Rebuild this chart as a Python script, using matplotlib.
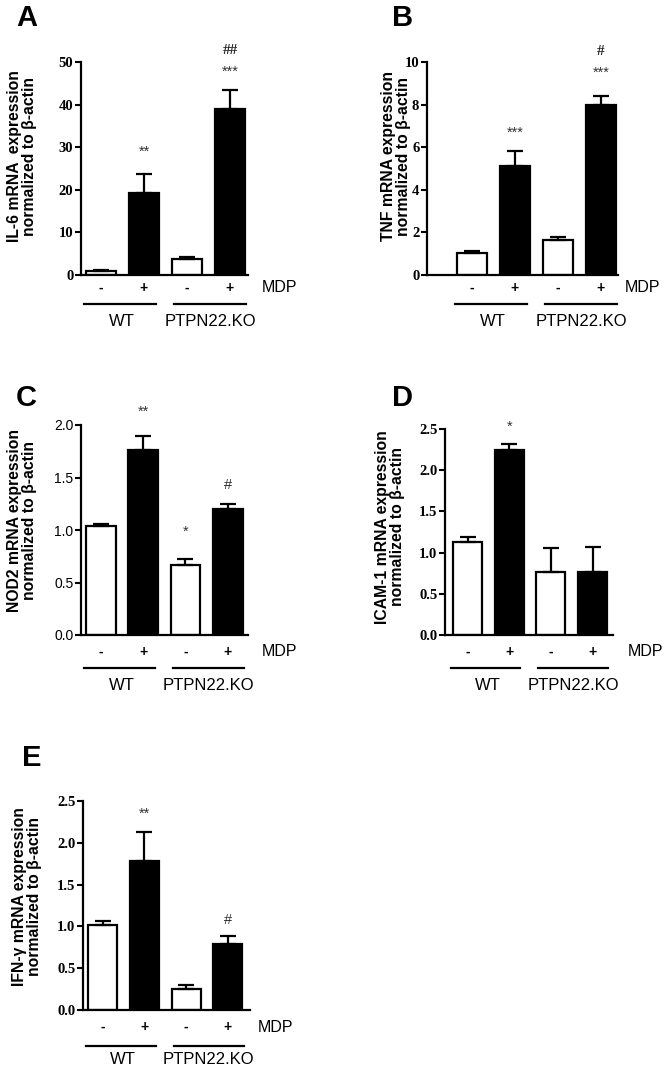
import matplotlib
matplotlib.use("Agg")
import matplotlib.pyplot as plt
import matplotlib.transforms as mtrans
import numpy as np

W, H = 670, 1071

# ---- data ----
treat = ["-", "+", "-", "+"]
groups = ["WT", "PTPN22.KO"]
bar_colors = ["white", "black", "white", "black"]

il6_mean = [1.0, 19.3, 3.8, 39.0]
il6_err = [0.15, 4.3, 0.4, 4.5]
il6_sig = ["", "**", "", "***"]
il6_sig2 = ["", "", "", "##"]

tnf_mean = [1.05, 5.1, 1.65, 8.0]
tnf_err = [0.07, 0.7, 0.15, 0.4]
tnf_sig = ["", "***", "", "***"]
tnf_sig2 = ["", "", "", "#"]

nod2_mean = [1.04, 1.76, 0.67, 1.2]
nod2_err = [0.02, 0.14, 0.05, 0.05]
nod2_sig = ["", "**", "*", "#"]

icam_mean = [1.13, 2.25, 0.76, 0.77]
icam_err = [0.06, 0.07, 0.29, 0.30]
icam_sig = ["", "*", "", ""]

ifng_mean = [1.02, 1.78, 0.25, 0.79]
ifng_err = [0.05, 0.35, 0.05, 0.10]
ifng_sig = ["", "**", "", "#"]

fig = plt.figure(figsize=(W / 100, H / 100), dpi=100)
plt.rcParams['font.family'] = ['Liberation Sans', 'DejaVu Sans']


def px_off(ax, dx, dy):
    # offset in pixels relative to a blended (data x, axes y) transform
    base = mtrans.blended_transform_factory(ax.transData, ax.transAxes)
    return base + mtrans.ScaledTranslation(dx / 100, -dy / 100, fig.dpi_scale_trans)


def panel(box, xlim, ylim, yticks, ytl, means, errs, sigs, sig_y, ylabel,
          lab_xy, letter, let_xy, tickfont, below, sigs2=None, sig2_y=None):
    left, right, bottom, top = box
    ax = fig.add_axes([left / W, 1 - bottom / H, (right - left) / W, (bottom - top) / H])
    x = np.arange(4)
    ax.bar(x, means, width=0.7, color=bar_colors, edgecolor="black", linewidth=1.6, zorder=2)
    ax.errorbar(x, means, yerr=[np.zeros(4), errs], fmt="none", ecolor="black",
                elinewidth=1.6, capsize=5.5, capthick=1.6, zorder=3)
    ax.set_xlim(*xlim)
    ax.set_ylim(*ylim)
    ax.set_yticks(yticks)
    ax.set_yticklabels(ytl, **tickfont)
    ax.set_xticks([])
    for s in ["top", "right"]:
        ax.spines[s].set_visible(False)
    for s in ["left", "bottom"]:
        ax.spines[s].set_linewidth(1.6)
    ax.tick_params(axis="y", length=4, width=1.5, pad=1.5)

    for i in range(4):
        if sigs[i]:
            ax.text(x[i], sig_y[i], sigs[i], ha="center", va="center", fontsize=10.5, color="#333333")
        if sigs2 is not None and sigs2[i]:
            ax.text(x[i], sig2_y[i], sigs2[i], ha="center", va="center", fontsize=11,
                    fontweight="bold", family="Liberation Serif", color="#222222")

    d_pm, d_line, d_grp, d_mdp = below
    for i in range(4):
        ax.text(x[i], 0, treat[i], transform=px_off(ax, 0, d_pm), ha="center", va="center",
                fontsize=10, fontweight="bold")
    ax.text(1, 0, "MDP", transform=ax.transAxes + mtrans.ScaledTranslation(d_mdp / 100, -d_pm / 100, fig.dpi_scale_trans),
            ha="left", va="center", fontsize=11.5)
    for g, (a, b) in enumerate([(-0.4, 1.27), (1.7, 3.38)]):
        ax.plot([a, b], [0, 0], color="black", lw=1.6, transform=px_off(ax, 0, d_line), clip_on=False)
        ax.text((a + b) / 2 + (0.05 if g == 0 else 0), 0, groups[g], transform=px_off(ax, 0, d_grp),
                ha="center", va="center", fontsize=12)

    fig.text(lab_xy[0] / W, 1 - lab_xy[1] / H, ylabel, rotation=90, ha="center", va="center",
             fontsize=11.3, fontweight="bold", linespacing=1.05, multialignment="center")
    fig.text(let_xy[0] / W, 1 - let_xy[1] / H, letter, ha="left", va="top",
             fontsize=21, fontweight="bold")
    return ax


serif_bold = dict(family="Liberation Serif", fontweight="bold", fontsize=10.5)
sans_plain = dict(family="Liberation Sans", fontsize=10)

panel((81, 248, 275, 62), (-0.465, 3.42), (0, 50), range(0, 51, 10),
      [str(v) for v in range(0, 51, 10)], il6_mean, il6_err, il6_sig, [29, 29, 29, 47.7],
      "IL-6 mRNA  expression\nnormalized to \u03b2-actin", (22, 156), "A", (16, 4),
      serif_bold, (13, 29, 47, 14), il6_sig2, [0, 0, 0, 52.7])

panel((427, 618, 275, 62), (-1.05, 3.40), (0, 10), range(0, 11, 2),
      [str(v) for v in range(0, 11, 2)], tnf_mean, tnf_err, tnf_sig, [0, 6.7, 0, 9.5],
      "TNF mRNA expression\nnormalized to \u03b2-actin", (396, 156), "B", (392, 4),
      serif_bold, (13, 29, 47, 7), tnf_sig2, [0, 0, 0, 10.5])

panel((81, 248, 635, 425), (-0.47, 3.48), (0, 2.0), np.arange(0, 2.01, 0.5),
      ["0.0", "0.5", "1.0", "1.5", "2.0"], nod2_mean, nod2_err, nod2_sig, [0, 2.13, 0.98, 1.43],
      "NOD2 mRNA expression\nnormalized to \u03b2-actin", (22, 520), "C", (16, 384),
      sans_plain, (17, 33, 51, 14))

panel((445, 613, 635, 429), (-0.54, 3.49), (0, 2.5), np.arange(0, 2.51, 0.5),
      ["0.0", "0.5", "1.0", "1.5", "2.0", "2.5"], icam_mean, icam_err, icam_sig, [0, 2.53, 0, 0],
      "ICAM-1 mRNA expression\nnormalized to \u03b2-actin", (390, 527), "D", (392, 384),
      serif_bold, (17, 33, 51, 15))

panel((83, 250, 1010, 801), (-0.47, 3.53), (0, 2.5), np.arange(0, 2.51, 0.5),
      ["0.0", "0.5", "1.0", "1.5", "2.0", "2.5"], ifng_mean, ifng_err, ifng_sig, [0, 2.35, 0, 1.08],
      "IFN-\u03b3 mRNA expression\nnormalized to \u03b2-actin", (27, 897), "E", (22, 744),
      serif_bold, (17, 36, 50, 8))

fig.savefig("out.png", dpi=100)
